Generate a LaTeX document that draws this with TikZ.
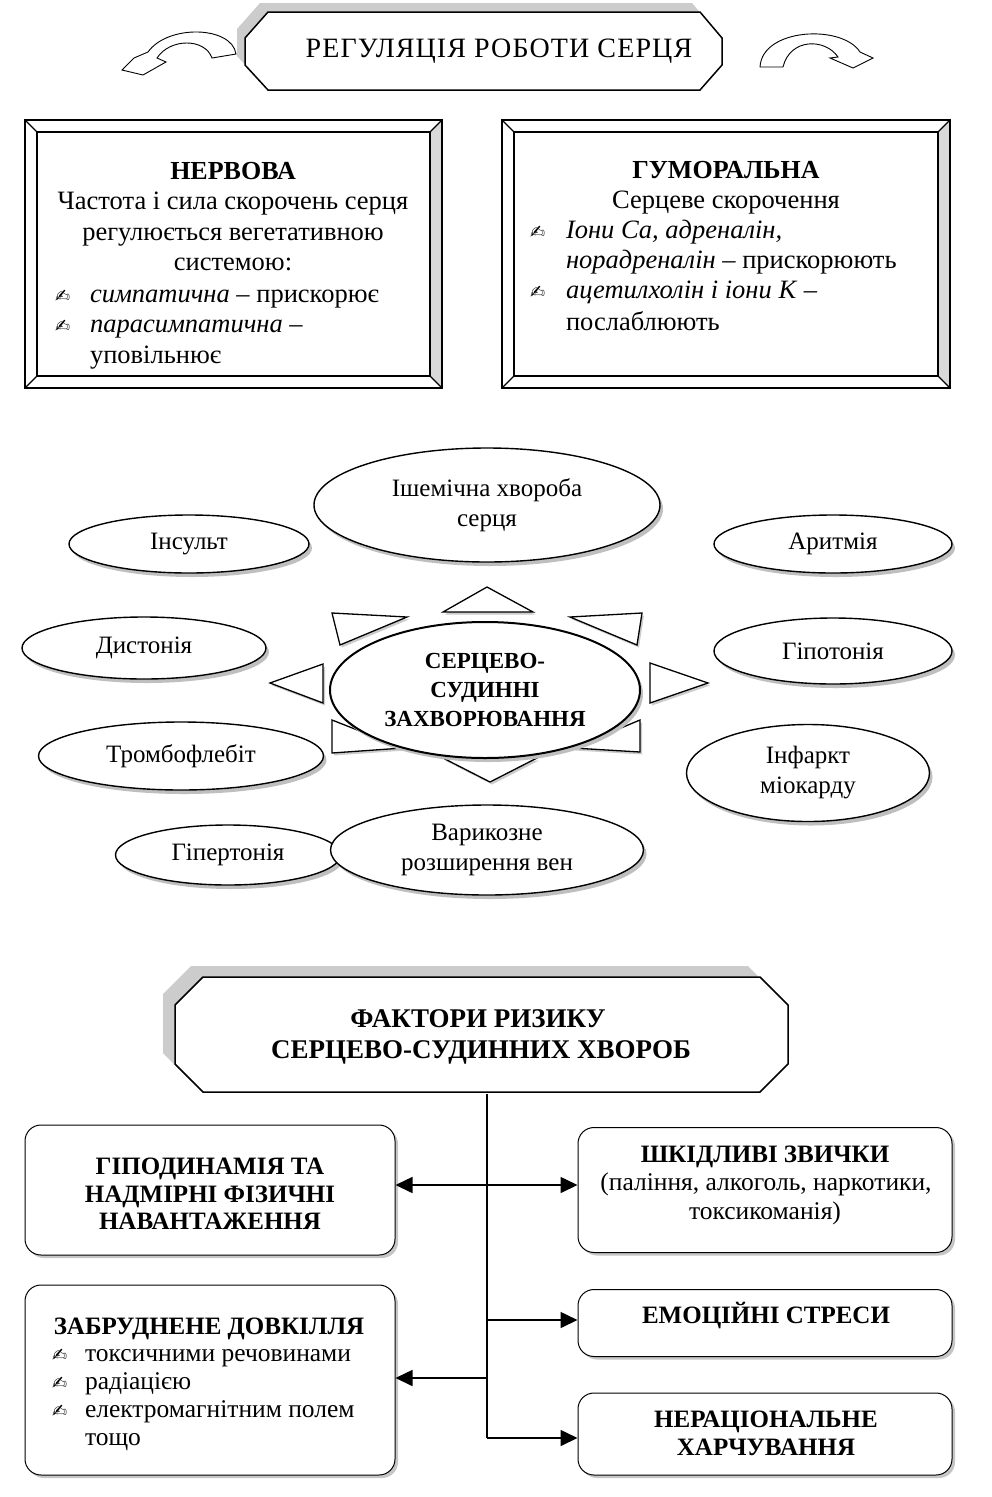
\documentclass[tikz,border=0pt]{standalone}
\usepackage{fontspec}
\setmainfont{Liberation Serif}
\newfontfamily\dejavu{DejaVu Sans}
\usetikzlibrary{arrows.meta,shapes.geometric,shadows}
\newcommand\bulx{{\dejavu\fontsize{18}{18}\selectfont ✍}}
\begin{document}
\begin{tikzpicture}[x=1pt,y=-1pt,
  lbl/.style={inner sep=0pt, outer sep=0pt},
  rg/.style={lbl, font=\fontsize{26.5}{31}\selectfont},
  bf/.style={lbl, font=\bfseries\fontsize{26}{31}\selectfont},
  rgs/.style={lbl, font=\fontsize{25.5}{28}\selectfont},
  bfs/.style={lbl, font=\bfseries\fontsize{25}{28}\selectfont},
  shad/.style={drop shadow={shadow xshift=3pt, shadow yshift=-4pt, fill=gray!50, opacity=1}},
  ell/.style={ellipse, draw, line width=1.4pt, fill=white, shad, inner sep=0pt, align=center, font=\fontsize{25}{30}\selectfont},
  rbox/.style={rectangle, rounded corners=16pt, draw, line width=1pt, fill=white, drop shadow={shadow xshift=3pt, shadow yshift=-3pt, fill=gray!45, opacity=1}},
  tri/.style={draw, line width=1.3pt, fill=white, line join=miter, drop shadow={shadow xshift=2pt, shadow yshift=-2.5pt, fill=gray!40, opacity=1}},
  arr/.style={line width=1.6pt, -{Triangle[length=17pt,width=16pt]}},
  frame/.style={line width=1.1pt},
  oct/.style={draw, line width=1.5pt, fill=white},
  curv/.style={draw, line width=0.9pt, fill=white, line join=miter}
]
\useasboundingbox (0,0) rectangle (991,1497);
\fill[white] (0,0) rectangle (991,1497);

% ---------- title ----------
\fill[gray!40, shift={(-8,-9)}] (245,38)--(268,12)--(700,12)--(722,38)--(722,65)--(700,90)--(268,90)--(245,65)--cycle;
\path[oct] (245,38)--(268,12)--(700,12)--(722,38)--(722,65)--(700,90)--(268,90)--(245,65)--cycle;
\node[lbl, font=\fontsize{28}{28}\selectfont\addfontfeatures{LetterSpace=4}] (title) at (499,51) {РЕГУЛЯЦІЯ РОБОТИ СЕРЦЯ};

% curved arrows
\path[curv] (236,54) .. controls (232,26) and (168,24) .. (148,52) -- (134,58) -- (122,70) -- (143,75) -- (166,62) -- (157,58) .. controls (170,38) and (205,38) .. (212,58) -- cycle;
\path[curv] (760,67) .. controls (762,28) and (842,24) .. (860,52) -- (873,58) -- (853,68) -- (830,58) -- (838,57) .. controls (825,38) and (790,38) .. (783,67) -- cycle;

% ---------- left frame ----------
\fill[gray!30] (430,132) -- (442,120) -- (442,388) -- (430,376) -- cycle;
\draw[frame] (25,120) rectangle (442,388);
\draw[frame] (37,132) rectangle (430,376);
\draw[frame] (25,120)--(37,132) (442,120)--(430,132) (25,388)--(37,376) (442,388)--(430,376);
\node[bf, anchor=base] (n0) at (233,179) {НЕРВОВА};
\node[rg, anchor=base] (n1) at (233,209) {Частота і сила скорочень серця};
\node[rg, anchor=base] (n2) at (233,240) {регулюється вегетативною};
\node[rg, anchor=base] (n3) at (233,270) {системою:};
\node[lbl, anchor=base west] (nb1) at (55,302) {\bulx};
\node[rg, anchor=base west] (n4) at (90,302) {\textit{симпатична} – прискорює};
\node[lbl, anchor=base west] (nb2) at (55,332) {\bulx};
\node[rg, anchor=base west] (n5) at (90,332) {\textit{парасимпатична} –};
\node[rg, anchor=base west] (n6) at (90,363) {уповільнює};

% ---------- right frame ----------
\fill[gray!30] (938,132) -- (950,120) -- (950,388) -- (938,376) -- cycle;
\draw[frame] (502,120) rectangle (950,388);
\draw[frame] (514,132) rectangle (938,376);
\draw[frame] (502,120)--(514,132) (950,120)--(938,132) (502,388)--(514,376) (950,388)--(938,376);
\node[bf, anchor=base] (g0) at (726,178) {ГУМОРАЛЬНА};
\node[rg, anchor=base] (g1) at (726,208) {Серцеве скорочення};
\node[lbl, anchor=base west] (gb1) at (530,238) {\bulx};
\node[rg, anchor=base west] (g2) at (566,238) {\textit{Іони Са, адреналін,}};
\node[rg, anchor=base west] (g3) at (566,268) {\textit{норадреналін} – прискорюють};
\node[lbl, anchor=base west] (gb2) at (530,298) {\bulx};
\node[rg, anchor=base west] (g4) at (566,298) {\textit{ацетилхолін і іони К} –};
\node[rg, anchor=base west] (g5) at (566,330) {послаблюють};

% ---------- star ----------
\path[tri] (487,587) -- (533,612) -- (443,612) -- cycle;
\path[tri] (443,758) -- (537,758) -- (490,782) -- cycle;
\path[tri] (270,683) -- (323,664) -- (323,703) -- cycle;
\path[tri] (708,683) -- (650,663) -- (650,703) -- cycle;
\path[tri] (332,613) -- (407,617) -- (340,645) -- cycle;
\path[tri] (642,613) -- (637,645) -- (570,617) -- cycle;
\path[tri] (332,720) -- (403,748) -- (332,753) -- cycle;
\path[tri] (640,720) -- (640,752) -- (573,748) -- cycle;

% ---------- ellipses ----------
\node[ell, minimum width=346pt, minimum height=114pt] (ihs) at (487,505) {Ішемічна хвороба\\серця};
\node[ell, minimum width=240pt, minimum height=58pt] (ins) at (189,544) {Інсульт};
\node[ell, minimum width=238pt, minimum height=58pt] (ary) at (833,544) {Аритмія};
\node[ell, minimum width=244pt, minimum height=62pt] (dys) at (144,648) {Дистонія};
\node[ell, minimum width=238pt, minimum height=66pt] (hpo) at (833,651) {Гіпотонія};
\node[ell, minimum width=285pt, minimum height=68pt] (trb) at (181,756) {Тромбофлебіт};
\node[ell, minimum width=243pt, minimum height=97pt] (inf) at (808,773) {Інфаркт\\міокарду};
\node[ell, minimum width=225pt, minimum height=60pt] (hpe) at (228,855) {Гіпертонія};
\node[ell, minimum width=313pt, minimum height=90pt] (var) at (487,850) {Варикозне\\розширення вен};
\node[ell, line width=2pt, minimum width=310pt, minimum height=136pt, font=\bfseries\fontsize{23}{29}\selectfont] (cvd) at (485,690) {СЕРЦЕВО-\\СУДИННІ\\ЗАХВОРЮВАННЯ};

% ---------- risk factors header ----------
\fill[gray!40, shift={(-12,-11)}] (175,1005)--(203,977)--(760,977)--(788,1005)--(788,1064)--(760,1092)--(203,1092)--(175,1064)--cycle;
\path[oct] (175,1005)--(203,977)--(760,977)--(788,1005)--(788,1064)--(760,1092)--(203,1092)--(175,1064)--cycle;
\node[lbl, font=\bfseries\fontsize{27}{28}\selectfont, anchor=base] (h1) at (478,1027) {ФАКТОРИ РИЗИКУ};
\node[lbl, font=\bfseries\fontsize{27}{28}\selectfont, anchor=base] (h2) at (481,1058) {СЕРЦЕВО-СУДИННИХ ХВОРОБ};
\coordinate (hdr) at (487,1094);

% ---------- boxes ----------
\node[rbox, minimum width=370pt, minimum height=130pt] (l1) at (210,1190) {};
\node[rbox, minimum width=374pt, minimum height=125pt] (r1) at (765,1190) {};
\node[rbox, minimum width=370pt, minimum height=190pt] (l2) at (210,1380) {};
\node[rbox, minimum width=374pt, minimum height=67pt] (r2) at (765,1323) {};
\node[rbox, minimum width=374pt, minimum height=82pt] (r3) at (765,1434) {};

\node[bfs, anchor=base] (l1a) at (210,1174) {ГІПОДИНАМІЯ ТА};
\node[bfs, anchor=base] (l1b) at (210,1202) {НАДМІРНІ ФІЗИЧНІ};
\node[bfs, anchor=base] (l1c) at (210,1229) {НАВАНТАЖЕННЯ};

\node[bfs, anchor=base] (r1a) at (765,1162) {ШКІДЛИВІ ЗВИЧКИ};
\node[rgs, anchor=base] (r1b) at (766,1190) {(паління, алкоголь, наркотики,};
\node[rgs, anchor=base] (r1c) at (765,1219) {токсикоманія)};

\node[bfs, anchor=base] (r2a) at (766,1323) {ЕМОЦІЙНІ СТРЕСИ};
\node[bfs, anchor=base] (r3a) at (766,1427) {НЕРАЦІОНАЛЬНЕ};
\node[bfs, anchor=base] (r3b) at (766,1455) {ХАРЧУВАННЯ};

\node[bfs, anchor=base] (l2a) at (209,1334) {ЗАБРУДНЕНЕ ДОВКІЛЛЯ};
\node[lbl, anchor=base west] (l2b0) at (52,1361) {\bulx};
\node[rgs, anchor=base west] (l2b) at (85,1361) {токсичними речовинами};
\node[lbl, anchor=base west] (l2c0) at (52,1389) {\bulx};
\node[rgs, anchor=base west] (l2c) at (85,1389) {радіацією};
\node[lbl, anchor=base west] (l2d0) at (52,1417) {\bulx};
\node[rgs, anchor=base west] (l2d) at (85,1417) {електромагнітним полем};
\node[rgs, anchor=base west] (l2e) at (85,1445) {тощо};

% ---------- connectors ----------
\coordinate (j1) at (487,1185);
\coordinate (j2) at (487,1320);
\coordinate (j3) at (487,1378);
\coordinate (j4) at (487,1438);
\draw[line width=1.6pt] (hdr) -- (j4);
\draw[arr] (j1) -- (j1 -| r1.west);
\draw[arr] (j1) -- (j1 -| l1.east);
\draw[arr] (j2) -- (j2 -| r2.west);
\draw[arr] (j3) -- (j3 -| l2.east);
\draw[arr] (j4) -- (j4 -| r3.west);
\end{tikzpicture}
\end{document}
